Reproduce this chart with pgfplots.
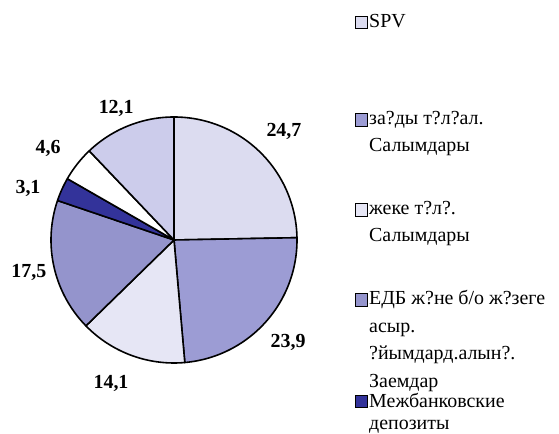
\documentclass[border=0pt]{standalone}
\usepackage{pgfplots}
\pgfplotsset{compat=1.18}
\usepackage{fontspec}
\setmainfont{Liberation Serif}
\definecolor{cA}{HTML}{DCDCF0}
\definecolor{cB}{HTML}{9C9CD4}
\definecolor{cC}{HTML}{E6E6F5}
\definecolor{cD}{HTML}{9494CC}
\definecolor{cE}{HTML}{33339A}
\definecolor{cF}{HTML}{FFFFFF}
\definecolor{cG}{HTML}{CCCCEB}
% #1 cumulative start (percent), #2 value (percent), #3 colour
\newcommand{\slice}[3]{%
  \addplot[fill=#3, draw=black, line width=1.6pt, line join=round,
    domain={90-3.6*(#1+#2)}:{90-3.6*(#1)}, samples=90, variable=\t]
    ({cos(\t)},{sin(\t)}) -- (axis cs:0,0) -- cycle;
}
\begin{document}
\begin{tikzpicture}[x=1bp,y=1bp]
\useasboundingbox (0,0) rectangle (559,434);
\begin{axis}[at={(174bp,194bp)}, anchor=center, width=246bp, height=246bp,
  scale only axis, xmin=-1, xmax=1, ymin=-1, ymax=1, hide axis, clip=false]
\slice{0}{24.7}{cA}
\slice{24.7}{23.9}{cB}
\slice{48.6}{14.1}{cC}
\slice{62.7}{17.5}{cD}
\slice{80.2}{3.1}{cE}
\slice{83.3}{4.6}{cF}
\slice{87.9}{12.1}{cG}
\begin{scope}[every node/.style={font=\bfseries\fontsize{20}{24}\selectfont, inner sep=0pt}]
\node at (axis cs:0.894,0.886) {24,7};
\node at (axis cs:0.927,-0.829) {23,9};
\node at (axis cs:-0.512,-1.163) {14,1};
\node at (axis cs:-1.18,-0.26) {17,5};
\node at (axis cs:-1.187,0.423) {3,1};
\node at (axis cs:-1.024,0.748) {4,6};
\node at (axis cs:-0.47,1.07) {12,1};
\end{scope}
\end{axis}
% legend
\begin{scope}[every node/.style={font=\fontsize{20}{24}\selectfont, inner sep=0pt, anchor=base west}]
\draw[fill=cA, line width=0.9pt] (355,434-28) rectangle (367,434-16);
\node at (369,434-28) {SPV};
\draw[fill=cB, line width=0.9pt] (355,434-126) rectangle (367,434-113);
\node at (369,434-125) {за?ды т?л?ал.};
\node at (369,434-152) {Салымдары};
\draw[fill=cC, line width=0.9pt] (355,434-216) rectangle (367,434-203);
\node at (369,434-215) {жеке т?л?.};
\node at (369,434-242) {Салымдары};
\draw[fill=cD, line width=0.9pt] (355,434-306) rectangle (367,434-293);
\node at (369,434-305) {ЕДБ ж?не б/о ж?зеге};
\node at (369,434-333) {асыр.};
\node at (369,434-360) {?йымдард.алын?.};
\node at (369,434-388) {Заемдар};
\draw[fill=cE, line width=0.9pt] (355,434-407) rectangle (367,434-395);
\node at (369,434-408) {Межбанковские};
\node at (369,434-430) {депозиты};
\end{scope}
\end{tikzpicture}
\end{document}
